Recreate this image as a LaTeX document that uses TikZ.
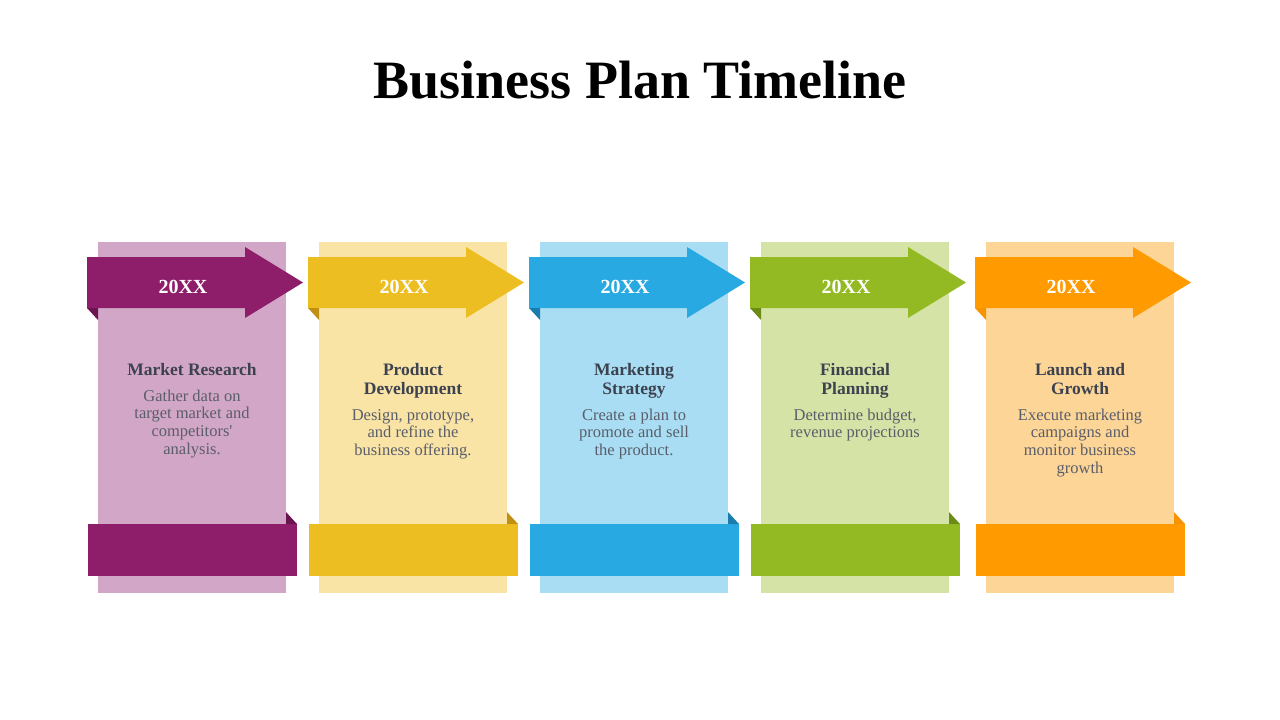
\documentclass[tikz,border=0pt]{standalone}
\usepackage{fontspec}
\setmainfont{Liberation Serif}
\definecolor{txt}{HTML}{3D4250}
\definecolor{dA}{HTML}{8E1E6A}\definecolor{lA}{HTML}{D2A6C6}\definecolor{fA}{HTML}{6A1450}
\definecolor{dB}{HTML}{EDBE22}\definecolor{lB}{HTML}{F9E4A6}\definecolor{fB}{HTML}{BF9012}
\definecolor{dC}{HTML}{29A9E1}\definecolor{lC}{HTML}{A9DDF3}\definecolor{fC}{HTML}{1B7DAE}
\definecolor{dD}{HTML}{93BA22}\definecolor{lD}{HTML}{D5E4A6}\definecolor{fD}{HTML}{6C8B16}
\definecolor{dE}{HTML}{FF9A00}\definecolor{lE}{HTML}{FDD597}\definecolor{fE}{HTML}{F59300}
\tikzset{
  yearlbl/.style={text=white,font=\fontsize{20}{22}\selectfont\bfseries,inner sep=0pt},
  headlbl/.style={text=txt,font=\fontsize{17.5}{19}\selectfont\bfseries,align=center,inner sep=0pt,anchor=base},
  bodylbl/.style={text=txt!85,font=\fontsize{16.5}{17.7}\selectfont,align=center,inner sep=0pt,anchor=base},
}
\begin{document}
\begin{tikzpicture}[x=1pt,y=-1pt]
\useasboundingbox (0,0) rectangle (1280,720);
\fill[white] (0,0) rectangle (1280,720);
\node[font=\fontsize{54}{60}\selectfont\bfseries,inner sep=0pt,anchor=base] (title) at (640,98) {Business Plan Timeline};
\foreach \bx/\c/\id/\hy/\by/\head/\body in {
  98/A/one/375/454.1/{Market Research}/{Gather data on\\target market and\\competitors\textquotesingle\\analysis.},
  319/B/two/394/455.4/{Product\\Development}/{Design, prototype,\\and refine the\\business offering.},
  540/C/three/394/455.4/{Marketing\\Strategy}/{Create a plan to\\promote and sell\\the product.},
  761/D/four/394/437.7/{Financial\\Planning}/{Determine budget,\\revenue projections},
  986/E/five/394/473.1/{Launch and\\Growth}/{Execute marketing\\campaigns and\\monitor business\\growth}}{
  \fill[l\c] (\bx,242) rectangle (\bx+188,593);
  \fill[d\c] (\bx-11,257) -- (\bx+147,257) -- (\bx+147,247) -- (\bx+205,282.5) -- (\bx+147,318) -- (\bx+147,308) -- (\bx-11,308) -- cycle;
  \fill[f\c] (\bx-11,308) -- (\bx,308) -- (\bx,320) -- cycle;
  \fill[d\c] (\bx-10,524) rectangle (\bx+199,576);
  \fill[f\c] (\bx+188,512) -- (\bx+199,524) -- (\bx+188,524) -- cycle;
  \node[yearlbl] (year-\id) at (\bx+85,287) {20XX};
  \node[headlbl] (head-\id) at (\bx+94,\hy) {\head};
  \node[bodylbl] (body-\id) at (\bx+94,\by) {\body};
}
\end{tikzpicture}
\end{document}
